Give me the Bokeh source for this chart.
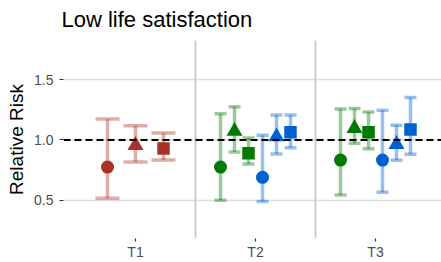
from bokeh.plotting import figure
from bokeh.models import FixedTicker, Span, ColumnDataSource, Range1d
from bokeh.embed import file_html
from bokeh.resources import INLINE

# ---- data ----
groups = ["T1", "T2", "T3"]
title_text = "Low life satisfaction"

t1_colors = ["red", "red", "red"]
t1_shapes = ["circle", "triangle", "square"]
t1_est = [0.775, 0.956, 0.93]
t1_lo = [0.517, 0.817, 0.833]
t1_hi = [1.175, 1.117, 1.058]

t2_colors = ["green", "green", "green", "blue", "blue", "blue"]
t2_shapes = ["circle", "triangle", "square", "circle", "triangle", "square"]
t2_est = [0.775, 1.073, 0.89, 0.69, 1.027, 1.065]
t2_lo = [0.50, 0.90, 0.80, 0.49, 0.883, 0.936]
t2_hi = [1.217, 1.275, 1.017, 1.04, 1.208, 1.208]

t3_colors = ["green", "green", "green", "blue", "blue", "blue"]
t3_shapes = ["circle", "triangle", "square", "circle", "triangle", "square"]
t3_est = [0.833, 1.097, 1.064, 0.833, 0.964, 1.086]
t3_lo = [0.544, 0.972, 0.928, 0.567, 0.831, 0.881]
t3_hi = [1.256, 1.261, 1.233, 1.247, 1.122, 1.353]

y_ticks = [0.5, 1.0, 1.5]
ref_line = 1.0

# ---- styles ----
PALETTE = {"red": "#A93226", "green": "#007A00", "blue": "#0062D2"}
SIZES = {"circle": 13, "triangle": 16, "square": 12.5}
DODGE = 0.7
CAP = 0.6
FONT = "Liberation Sans"

p = figure(width=441, height=262, output_backend="svg", toolbar_location=None,
           x_range=Range1d(0.4, 3.55), y_range=Range1d(0.183, 1.825),
           min_border_left=63, min_border_right=0, min_border_top=40, min_border_bottom=0,
           title=title_text)
p.outline_line_color = None
p.background_fill_color = "white"
p.border_fill_color = "white"

p.title.text_font = FONT
p.title.text_font_size = "22px"
p.title.text_font_style = "normal"
p.title.text_color = "black"
p.title.vertical_align = "top"
p.title.standoff = 13
p.title.offset = -2

# separators between groups
for k in range(len(groups) - 1):
    p.add_layout(Span(location=k + 1.5, dimension="height", line_color="#C4C4C4",
                      line_width=1.6, level="underlay"))

all_groups = [
    (t1_colors, t1_shapes, t1_est, t1_lo, t1_hi),
    (t2_colors, t2_shapes, t2_est, t2_lo, t2_hi),
    (t3_colors, t3_shapes, t3_est, t3_lo, t3_hi),
]

for gi, (cols, shapes, est, lo, hi) in enumerate(all_groups):
    n = len(est)
    xs = [gi + 1 + (i - (n - 1) / 2) * DODGE / n for i in range(n)]
    half = CAP / n / 2
    src = ColumnDataSource(dict(
        x=xs, est=est, lo=lo, hi=hi,
        xl=[x - half for x in xs], xr=[x + half for x in xs],
        color=[PALETTE[c] for c in cols], marker=shapes,
        size=[SIZES[s] for s in shapes],
    ))
    p.segment("x", "lo", "x", "hi", source=src, line_color="color", line_alpha=0.4, line_width=3.5)
    p.segment("xl", "lo", "xr", "lo", source=src, line_color="color", line_alpha=0.4, line_width=3.5)
    p.segment("xl", "hi", "xr", "hi", source=src, line_color="color", line_alpha=0.4, line_width=3.5)
    p.scatter("x", "est", source=src, marker="marker", size="size",
              fill_color="color", line_color="color", line_width=0)

p.add_layout(Span(location=ref_line, dimension="width", line_color="black",
                  line_width=2, line_dash="7 4", level="annotation"))

# axes
p.xaxis.ticker = FixedTicker(ticks=[i + 1 for i in range(len(groups))])
p.xaxis.major_label_overrides = {i + 1: g for i, g in enumerate(groups)}
p.yaxis.ticker = FixedTicker(ticks=y_ticks)
p.yaxis.major_label_overrides = {t: f"{t:.1f}" for t in y_ticks}
p.yaxis.axis_label = "Relative Risk"

for ax in (p.xaxis[0], p.yaxis[0]):
    ax.axis_line_color = None
    ax.minor_tick_line_color = None
    ax.major_tick_in = 0
    ax.major_tick_line_color = "#333333"
    ax.major_tick_line_width = 1.2
    ax.major_label_text_font = FONT
    ax.major_label_text_font_size = "14px"
    ax.major_label_text_color = "#4D4D4D"
p.xaxis.major_tick_out = 3
p.xaxis.major_label_standoff = 2
p.yaxis.major_tick_out = 4
p.yaxis.major_label_standoff = 6
p.yaxis.axis_label_text_font = FONT
p.yaxis.axis_label_text_font_size = "19px"
p.yaxis.axis_label_text_font_style = "normal"
p.yaxis.axis_label_text_color = "black"
p.yaxis.axis_label_standoff = 4

p.xgrid.visible = False
p.ygrid.ticker = FixedTicker(ticks=y_ticks)
p.ygrid.grid_line_color = "#DDDDDD"
p.ygrid.grid_line_width = 1.5

open("out.html", "w").write(file_html(p, INLINE))
